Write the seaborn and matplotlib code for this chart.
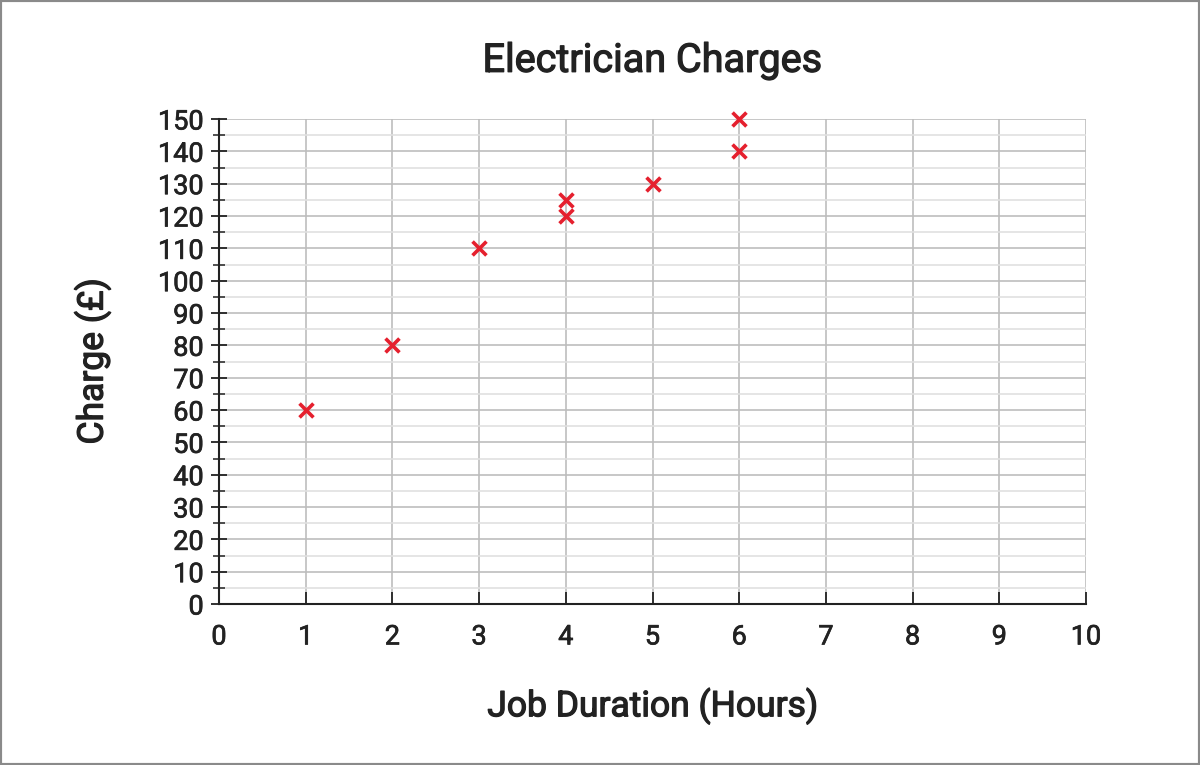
import matplotlib
matplotlib.use("Agg")
import matplotlib.pyplot as plt
import matplotlib.patheffects as pe
import seaborn as sns
import pandas as pd
from matplotlib.ticker import MultipleLocator
from matplotlib.patches import Rectangle

hours = [1, 2, 3, 4, 4, 5, 6, 6]
charges = [60, 80, 110, 120, 125, 130, 140, 150]
x_ticks = list(range(0, 11))
y_ticks = list(range(0, 151, 10))

df = pd.DataFrame({"Hours": hours, "Charge": charges})

sns.set_theme(style="white")
plt.rcParams['font.family'] = ['Roboto', 'DejaVu Sans']

TXT = '#222222'
big_fx = [pe.withStroke(linewidth=0.9, foreground=TXT)]
small_fx = [pe.withStroke(linewidth=0.5, foreground=TXT)]

fig = plt.figure(figsize=(12, 7.65), dpi=100)
ax = fig.add_axes([219/1200, 1 - 604/765, (1086-219)/1200, (604-119)/765])

ax.set_xlim(0, 10)
ax.set_ylim(0, 150)
ax.set_xticks(x_ticks)
ax.set_yticks(y_ticks)
ax.yaxis.set_minor_locator(MultipleLocator(5))

ax.grid(True, which='major', color='#bdbdbd', linewidth=1.2, zorder=0)
ax.grid(True, which='minor', axis='y', color='#e0e0e0', linewidth=1.2, zorder=0)
ax.set_axisbelow(True)

sns.scatterplot(data=df, x="Hours", y="Charge", ax=ax, marker='x', s=100,
                color='#e5202e', linewidth=2.6, zorder=5, clip_on=False)

for s in ['top', 'right']:
    ax.spines[s].set_visible(False)
for s in ['left', 'bottom']:
    ax.spines[s].set_color(TXT)
    ax.spines[s].set_linewidth(1.5)

ax.tick_params(axis='y', which='major', direction='inout', length=12, width=1.3,
               color=TXT, labelsize=19.5, labelcolor=TXT, pad=5, left=True)
ax.tick_params(axis='y', which='minor', direction='inout', length=8, width=1.1,
               color=TXT, left=True)
ax.tick_params(axis='x', which='major', direction='in', length=9, width=1.3,
               color=TXT, labelsize=19.5, labelcolor=TXT, pad=14, bottom=True)
for lab in ax.get_xticklabels() + ax.get_yticklabels():
    lab.set_path_effects(small_fx)

ax.set_xlabel("Job Duration (Hours)", fontsize=25.5, color=TXT, labelpad=27, path_effects=big_fx)
ax.set_ylabel("Charge (£)", fontsize=25.5, color=TXT, labelpad=34, path_effects=big_fx)
ax.set_title("Electrician Charges", fontsize=28.5, color=TXT, pad=34, path_effects=big_fx)

fig.patches.append(Rectangle((0, 0), 1, 1, transform=fig.transFigure, fill=False,
                             edgecolor='#8a8a8a', linewidth=3))

fig.savefig("out.png", dpi=100)
